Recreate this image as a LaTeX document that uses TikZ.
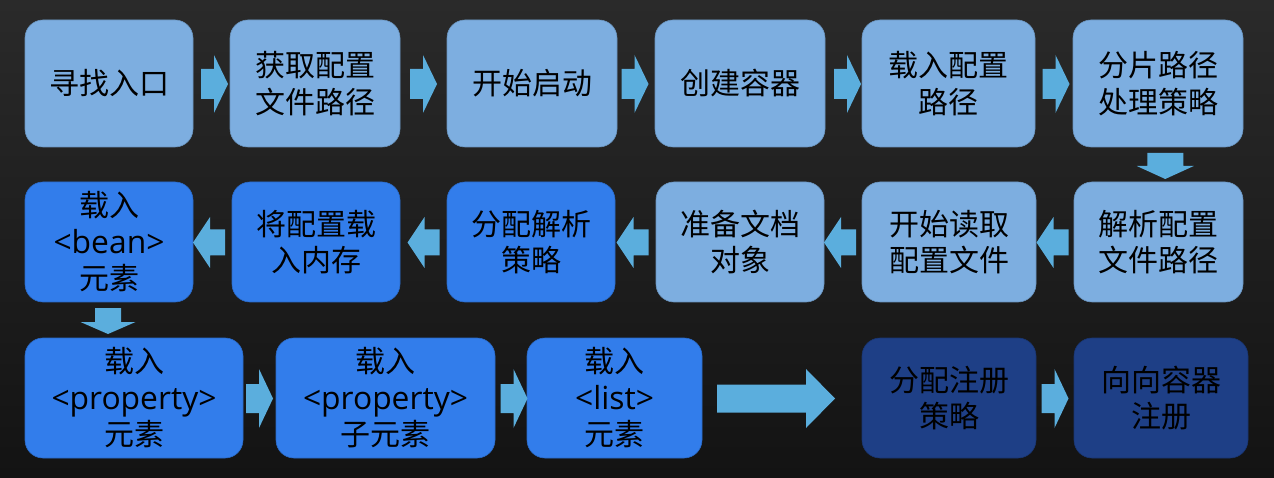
\documentclass[tikz,border=0pt]{standalone}
\usepackage{fontspec}
\setmainfont{Open Sans}
\newfontfamily\cjk{Noto Sans CJK SC}
\newfontfamily\lat[Scale=1.06]{Open Sans}
\usetikzlibrary{calc}
\definecolor{lightb}{HTML}{7DAEE0}
\definecolor{midb}{HTML}{327DEB}
\definecolor{darkb}{HTML}{1E3F86}
\definecolor{arrowc}{HTML}{5BAEDD}
\definecolor{bgtop}{HTML}{2A2A2A}
\definecolor{bgbot}{HTML}{131313}
% #1 first point, #2 second point, #3 angle, #4 length, #5 head length, #6 body half, #7 head half, #8 extra shift
\newcommand\blockarr[8]{%
  \coordinate (bc) at ($(#1)!0.5!(#2)$);
  \fill[arrowfill, shift={(bc)}, shift={#8}, rotate=#3]
    ({-#4/2},{-#6}) -- ({#4/2-#5},{-#6}) -- ({#4/2-#5},{-#7}) -- ({#4/2},0)
    -- ({#4/2-#5},{#7}) -- ({#4/2-#5},{#6}) -- ({-#4/2},{#6}) -- cycle;
}
\begin{document}
\begin{tikzpicture}[x=1pt,y=1pt,
  box/.style={rectangle, rounded corners=18pt, align=center, inner sep=0pt,
    font=\fontsize{30}{36.5}\selectfont\cjk, text=black},
  light/.style={box, fill=lightb, draw=lightb!85!black, line width=0.6pt},
  mid/.style={box, fill=midb, draw=midb!85!black, line width=0.6pt},
  dark/.style={box, fill=darkb, draw=darkb!85!black, line width=0.6pt},
  arrowfill/.style={fill=arrowc}]
\useasboundingbox (0,0) rectangle (1274,-478);
\shade[top color=bgtop, bottom color=bgbot] (0,0) rectangle (1274,-478);

% row 1
\node[light, minimum width=168, minimum height=127] (n1) at (109,-83.5) {寻找入口};
\node[light, minimum width=170, minimum height=127] (n2) at (315,-83.5) {获取配置\\文件路径};
\node[light, minimum width=170, minimum height=127] (n3) at (532,-83.5) {开始启动};
\node[light, minimum width=170, minimum height=127] (n4) at (740,-83.5) {创建容器};
\node[light, minimum width=173, minimum height=127] (n5) at (948.5,-83.5) {载入配置\\路径};
\node[light, minimum width=170, minimum height=127] (n6) at (1158,-83.5) {分片路径\\处理策略};

% row 2
\node[mid, minimum width=168, minimum height=120] (m1) at (109,-242) {载入\\{\lat <bean>}\\元素};
\node[mid, minimum width=168, minimum height=120] (m2) at (316,-242) {将配置载\\入内存};
\node[mid, minimum width=168, minimum height=120] (m3) at (531,-242) {分配解析\\策略};
\node[light, minimum width=168, minimum height=120] (m4) at (740,-242) {准备文档\\对象};
\node[light, minimum width=174, minimum height=120] (m5) at (949,-242) {开始读取\\配置文件};
\node[light, minimum width=169, minimum height=120] (m6) at (1158.5,-242) {解析配置\\文件路径};

% row 3
\node[mid, minimum width=218, minimum height=120] (p1) at (134,-398) {载入\\{\lat <property>}\\元素};
\node[mid, minimum width=219, minimum height=120] (p2) at (385.5,-398) {载入\\{\lat <property>}\\子元素};
\node[mid, minimum width=175, minimum height=120] (p3) at (614.5,-398) {载入\\{\lat <list>}\\元素};
\node[dark, minimum width=174, minimum height=120] (p4) at (949,-398) {分配注册\\策略};
\node[dark, minimum width=174, minimum height=120] (p5) at (1161,-398) {向向容器\\注册};

% row 1 arrows
\blockarr{n1.east}{n2.west}{0}{27}{14}{15}{29}{(3,-0.5)}
\blockarr{n2.east}{n3.west}{0}{27}{14}{15}{29}{(0,-0.5)}
\blockarr{n3.east}{n4.west}{0}{27}{14}{15}{29}{(-1,-0.5)}
\blockarr{n4.east}{n5.west}{0}{27}{14}{15}{29}{(4,-0.5)}
\blockarr{n5.east}{n6.west}{0}{27}{14}{15}{29}{(2,-0.5)}
% down arrow
\blockarr{n6.south}{m6.north}{-90}{26}{13}{18}{28.5}{(7,-1.5)}
% row 2 arrows (leftwards)
\blockarr{m6.west}{m5.east}{180}{32}{17}{13}{25.5}{(-2.5,-0.5)}
\blockarr{m5.west}{m4.east}{180}{32}{17}{13}{25.5}{(-3,-0.5)}
\blockarr{m4.west}{m3.east}{180}{32}{17}{13}{25.5}{(-3,-0.5)}
\blockarr{m3.west}{m2.east}{180}{32}{17}{13}{25.5}{(0,-0.5)}
\blockarr{m2.west}{m1.east}{180}{32}{17}{13}{25.5}{(-3.5,-0.5)}
% down arrow
\blockarr{m1.south}{m1.south |- p1.north}{-90}{26}{12}{13}{27.5}{(-1,-1)}
% row 3 arrows
\blockarr{p1.east}{p2.west}{0}{27}{14}{14.5}{29.5}{(0,-0.5)}
\blockarr{p2.east}{p3.west}{0}{27}{14}{14.5}{29.5}{(3,-0.5)}
\blockarr{p3.east}{p4.west}{0}{118}{29}{14}{29.5}{(-6,-0.5)}
\blockarr{p4.east}{p5.west}{0}{27}{14}{14.5}{29.5}{(0,-0.5)}
\end{tikzpicture}
\end{document}
